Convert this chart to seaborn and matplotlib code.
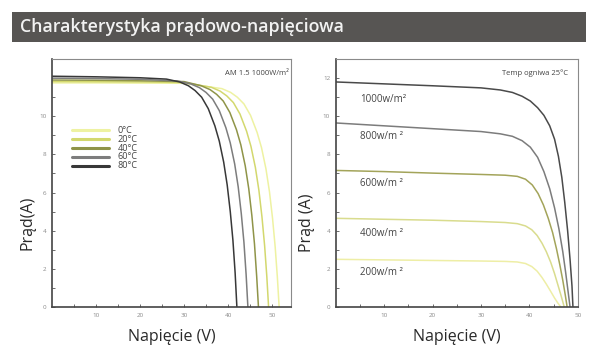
import numpy as np
import pandas as pd
import matplotlib
matplotlib.use("Agg")
import matplotlib.pyplot as plt
import seaborn as sns

# ---------------- dane: wykres temperaturowy (lewy) ----------------
temp_labels = ["0°C", "20°C", "40°C", "60°C", "80°C"]
temp_colors = ["#eef2a2", "#d3d86e", "#8f9448", "#7d7d7d", "#383838"]

v_0c = [0, 10, 20, 30, 38.6, 40.6, 42.1, 43.6, 45.1, 46.6, 47.6, 48.6, 49.4, 50.1, 50.7, 51.2, 51.6]
i_0c = [11.75, 11.75, 11.74, 11.73, 11.45, 11.25, 11.0, 10.65, 10.05, 9.15, 8.35, 7.25, 6.05, 4.65, 3.15, 1.55, 0]
v_20c = [0, 10, 20, 30, 36.2, 38.2, 39.7, 41.2, 42.7, 44.2, 45.2, 46.2, 47.0, 47.7, 48.3, 48.8, 49.2]
i_20c = [11.82, 11.81, 11.80, 11.77, 11.52, 11.32, 11.07, 10.72, 10.12, 9.22, 8.42, 7.32, 6.12, 4.72, 3.22, 1.6, 0]
v_40c = [0, 10, 20, 30, 33.9, 35.9, 37.4, 38.9, 40.4, 41.9, 42.9, 43.9, 44.7, 45.4, 46.0, 46.5, 46.9]
i_40c = [11.9, 11.89, 11.86, 11.82, 11.6, 11.4, 11.15, 10.8, 10.2, 9.3, 8.5, 7.4, 6.2, 4.8, 3.3, 1.6, 0]
v_60c = [0, 10, 20, 28.5, 31.5, 33.5, 35, 36.5, 38, 39.5, 40.5, 41.5, 42.3, 43, 43.6, 44.1, 44.5]
i_60c = [12.0, 11.98, 11.94, 11.85, 11.7, 11.5, 11.25, 10.9, 10.3, 9.4, 8.6, 7.5, 6.3, 4.9, 3.4, 1.7, 0]
v_80c = [0, 10, 20, 26, 29, 31, 32.5, 34, 35.5, 37, 38, 39, 39.8, 40.5, 41.1, 41.6, 42.0]
i_80c = [12.10, 12.07, 12.02, 11.95, 11.8, 11.6, 11.35, 11.0, 10.4, 9.5, 8.7, 7.6, 6.4, 5.0, 3.5, 1.8, 0]

# ---------------- dane: wykres nasłonecznienia (prawy) ----------------
irr_labels = ["1000w/m²", "800w/m ²", "600w/m ²", "400w/m ²", "200w/m ²"]
irr_colors = ["#4a4a4a", "#7c7c7c", "#a3a45a", "#d9dc8e", "#eeeea6"]
irr_label_y = [10.87, 8.93, 6.5, 3.83, 1.83]

v_1000 = [0, 10, 20, 30, 34, 36.5, 38.5, 40.2, 41.7, 43, 44.2, 45.2, 46.0, 46.7, 47.3, 47.9, 48.4, 48.8, 49.0]
i_1000 = [11.8, 11.7, 11.6, 11.49, 11.38, 11.25, 11.05, 10.8, 10.45, 10.05, 9.5, 8.8, 7.9, 6.8, 5.5, 4.0, 2.5, 1.1, 0]
v_800 = [0, 10, 20, 30, 34, 36.5, 38.5, 40.2, 41.7, 43, 44.2, 45.2, 46.1, 46.9, 47.5, 48.0, 48.4]
i_800 = [9.65, 9.5, 9.35, 9.2, 9.08, 8.95, 8.72, 8.38, 7.85, 7.1, 6.2, 5.2, 4.1, 2.9, 1.8, 0.8, 0]
v_600 = [0, 10, 20, 30, 35, 37.5, 39.2, 40.6, 41.8, 42.9, 43.9, 44.8, 45.6, 46.3, 46.9, 47.4, 47.8]
i_600 = [7.16, 7.1, 7.02, 6.95, 6.91, 6.85, 6.7, 6.4, 5.95, 5.35, 4.65, 3.9, 3.05, 2.2, 1.4, 0.65, 0]
v_400 = [0, 10, 20, 30, 35, 37.5, 39.2, 40.5, 41.6, 42.6, 43.5, 44.4, 45.2, 45.9, 46.6, 47.2]
i_400 = [4.65, 4.6, 4.55, 4.48, 4.43, 4.37, 4.25, 4.05, 3.75, 3.35, 2.9, 2.35, 1.75, 1.15, 0.55, 0]
v_200 = [0, 10, 20, 30, 35, 37.5, 39.2, 40.5, 41.6, 42.6, 43.5, 44.4, 45.2, 45.9, 46.5]
i_200 = [2.5, 2.47, 2.44, 2.41, 2.39, 2.36, 2.28, 2.12, 1.88, 1.55, 1.2, 0.82, 0.47, 0.2, 0]


def long_df(vs, iis, labels):
    parts = []
    for v, i, lab in zip(vs, iis, labels):
        parts.append(pd.DataFrame({"V": v, "I": i, "seria": lab}))
    return pd.concat(parts, ignore_index=True)


df_temp = long_df([v_0c, v_20c, v_40c, v_60c, v_80c],
                  [i_0c, i_20c, i_40c, i_60c, i_80c], temp_labels)
df_irr = long_df([v_1000, v_800, v_600, v_400, v_200],
                 [i_1000, i_800, i_600, i_400, i_200], irr_labels)

sns.set_theme(style="white")
plt.rcParams["font.family"] = ["Open Sans", "DejaVu Sans"]

fig = plt.figure(figsize=(5.92, 3.58), dpi=100)
fig.patch.set_facecolor("white")

# pasek tytułu
fig.patches.append(plt.Rectangle((12 / 592, 1 - 42 / 358), 574 / 592, 30 / 358,
                                 transform=fig.transFigure, facecolor="#575553",
                                 edgecolor="none", zorder=0))
fig.text(20 / 592, 1 - 27 / 358, "Charakterystyka prądowo-napięciowa",
         color="#f2f2f2", fontsize=12.8, fontweight="semibold",
         va="center", ha="left")

ax1 = fig.add_axes([0.0878, 0.1425, 0.4038, 0.6925])
ax2 = fig.add_axes([0.567, 0.1425, 0.409, 0.6925])


def style_axes(ax, xmax, ymax, yticks):
    ax.set_xlim(0, xmax)
    ax.set_ylim(0, ymax)
    ax.set_xticks([10, 20, 30, 40, 50])
    ax.set_xticks([5, 15, 25, 35, 45], minor=True)
    ax.set_yticks(yticks)
    ax.set_yticks([1, 3, 5, 7, 9, 11], minor=True)
    ax.tick_params(which="both", direction="in", length=2.5, width=0.6,
                   colors="#555555", labelsize=4.5, labelcolor="#8a8a8a", pad=4)
    ax.tick_params(which="both", left=True, bottom=True)
    for s in ["left", "bottom"]:
        ax.spines[s].set_color("#444444")
        ax.spines[s].set_linewidth(1.2)
    for s in ["top", "right"]:
        ax.spines[s].set_color("#8a8a8a")
        ax.spines[s].set_linewidth(0.8)
    ax.set_xlabel("Napięcie (V)", fontsize=11.5, color="#2a2a2a", labelpad=8)


# lewy wykres
sns.lineplot(data=df_temp, x="V", y="I", hue="seria", palette=temp_colors,
             sort=False, estimator=None, linewidth=1.1, legend=False, ax=ax1)
style_axes(ax1, 54.3, 13, [0, 2, 4, 6, 8, 10])
ax1.set_ylabel("Prąd(A)", fontsize=11.5, color="#2a2a2a")
ax1.yaxis.set_label_coords(-0.07, 0.34)
ax1.text(0.99, 0.94, "AM 1.5 1000W/m²", transform=ax1.transAxes,
         ha="right", va="center", fontsize=5.5, color="#444444")
for k, (lab, col) in enumerate(zip(temp_labels, temp_colors)):
    y = 0.713 - k * 0.036
    ax1.plot([0.082, 0.24], [y, y], transform=ax1.transAxes, color=col, lw=2.2)
    ax1.text(0.276, y, lab, transform=ax1.transAxes, ha="left", va="center",
             fontsize=6.6, color="#444444")

# prawy wykres
sns.lineplot(data=df_irr, x="V", y="I", hue="seria", palette=irr_colors,
             sort=False, estimator=None, linewidth=1.1, legend=False, ax=ax2)
style_axes(ax2, 50, 13, [0, 2, 4, 6, 8, 10, 12])
ax2.set_ylabel("Prąd (A)", fontsize=11.5, color="#2a2a2a")
ax2.yaxis.set_label_coords(-0.085, 0.34)
ax2.text(0.959, 0.942, "Temp ogniwa 25°C", transform=ax2.transAxes,
         ha="right", va="center", fontsize=5.5, color="#444444")
for lab, y in zip(irr_labels, irr_label_y):
    ax2.text(5, y, lab, ha="left", va="center", fontsize=7, color="#444444")

fig.savefig("out.png", dpi=100)
